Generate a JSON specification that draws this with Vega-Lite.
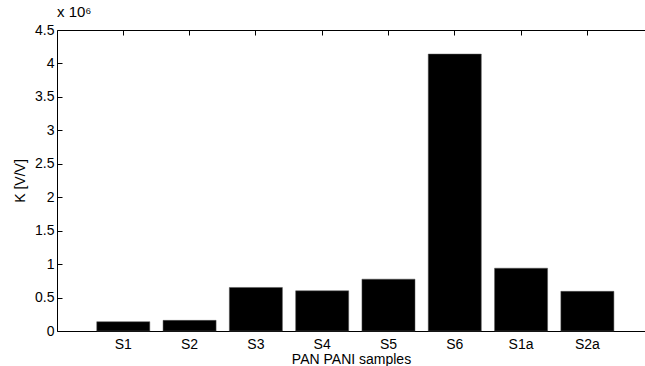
{
  "$schema": "https://vega.github.io/schema/vega-lite/v6.json",
  "width": 588,
  "height": 301,
  "autosize": {"type": "none"},
  "padding": {"left": 57, "top": 30, "right": 0, "bottom": 35},
  "background": "white",
  "config": {
    "view": {"stroke": null},
    "font": "Liberation Sans",
    "axis": {
      "labelFont": "Liberation Sans",
      "titleFont": "Liberation Sans",
      "labelFontSize": 14,
      "titleFontSize": 14,
      "titleFontWeight": "normal",
      "labelColor": "black",
      "titleColor": "black",
      "domainColor": "black",
      "tickColor": "black",
      "grid": false
    }
  },
  "title": {
    "text": "x 10⁶",
    "anchor": "start",
    "frame": "group",
    "fontSize": 15,
    "fontWeight": "normal",
    "font": "Liberation Sans",
    "color": "black",
    "offset": 3
  },
  "data": {
    "values": [
      {"sample": "S1", "K": 139000},
      {"sample": "S2", "K": 159000},
      {"sample": "S3", "K": 651000},
      {"sample": "S4", "K": 601000},
      {"sample": "S5", "K": 775000},
      {"sample": "S6", "K": 4140000},
      {"sample": "S1a", "K": 939000},
      {"sample": "S2a", "K": 593000}
    ]
  },
  "layer": [
    {
      "mark": {"type": "bar", "color": "black", "stroke": "#555555", "strokeWidth": 0.5},
      "encoding": {
        "x": {
          "field": "sample",
          "type": "nominal",
          "sort": null,
          "scale": {"paddingInner": 0.2, "paddingOuter": 0.5344, "align": 0.561},
          "axis": {
            "orient": "bottom",
            "title": "PAN PANI samples",
            "labelAngle": 0,
            "tickSize": -5,
            "bandPosition": 0.5,
            "labelPadding": 11,
            "titlePadding": 1
          }
        },
        "y": {
          "field": "K",
          "type": "quantitative",
          "scale": {"domain": [0, 4500000], "nice": false},
          "axis": {
            "title": "K [V/V]",
            "values": [0, 500000, 1000000, 1500000, 2000000, 2500000, 3000000, 3500000, 4000000, 4500000],
            "labelExpr": "datum.value / 1000000 + ''",
            "tickSize": -5,
            "labelPadding": 8,
            "titlePadding": 7
          }
        }
      }
    },
    {
      "mark": {"type": "tick", "opacity": 0},
      "encoding": {
        "x": {
          "field": "sample",
          "type": "nominal",
          "sort": null,
          "axis": {
            "orient": "top",
            "title": null,
            "labels": false,
            "tickSize": -5,
            "bandPosition": 0.5
          }
        }
      }
    }
  ],
  "resolve": {"axis": {"x": "independent"}}
}
